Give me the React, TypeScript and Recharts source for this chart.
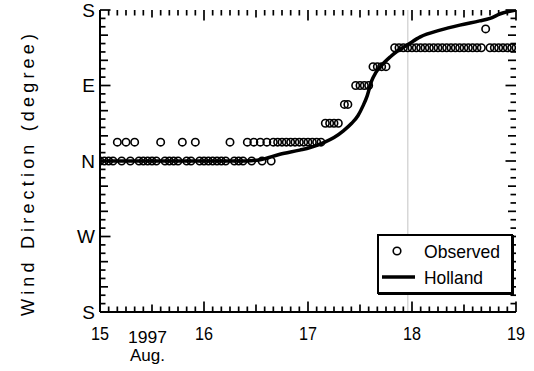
import React from 'react';
import { ComposedChart, Scatter, Line, XAxis, YAxis, Legend, ReferenceLine } from 'recharts';

const FONT = "'Liberation Sans', Arial, sans-serif";

// Observed wind direction levels (deg, N = 0, E = 90, S = +/-180, W = -90)
const obsLevels = [0, 22.5, 45, 67.5, 90, 112.5, 135, 157.5];
// Observation times (hours after 15 Aug 1997 00:00) for each level above
const obsHoursN = [0, 1, 2, 3, 5, 7, 9, 10, 11, 12, 13, 15, 16, 17, 18, 20, 21, 23, 24, 25, 26, 27, 28, 29, 31, 32, 33, 35, 37.4, 39.5];
const obsHoursNNE = [4, 6, 8, 14, 19, 22, 30, 34, 35.5, 37, 38.5, 40, 41, 42, 43, 44, 45, 46, 47, 48, 49, 50, 51];
const obsHoursNE = [52, 53, 54, 55];
const obsHoursENE = [56.4, 57.2];
const obsHoursE = [59, 60, 61, 62];
const obsHoursESE = [63, 64, 65, 66];
const obsHoursSE = [68, 69, 70, 71, 72, 73, 74, 75, 76, 77, 78, 79, 80, 81, 82, 83, 84, 85, 86, 87, 88, 90, 91, 92, 93, 94, 95, 96];
const obsHoursSSE = [89];
const obsHourGroups = [obsHoursN, obsHoursNNE, obsHoursNE, obsHoursENE, obsHoursE, obsHoursESE, obsHoursSE, obsHoursSSE];

// Holland model curve
const hollandDays = [15.0, 15.5, 16.0, 16.4, 16.54, 16.73, 16.92, 17.02, 17.15, 17.25, 17.34, 17.42, 17.48, 17.53, 17.57, 17.61, 17.65, 17.7, 17.79, 17.87, 17.95, 18.08, 18.27, 18.46, 18.65, 18.75, 18.85, 18.94, 19.0];
const hollandDeg = [0, 0, 0, 0, 1.5, 8, 13, 16, 22, 28, 36, 45, 54, 66, 78, 95, 105, 113, 124, 132, 138, 148, 156, 162, 167, 170, 175.5, 178.5, 180];

// Axis labels
const xTickDays = [15, 16, 17, 18, 19];
const xTickLabels = ['15', '16', '17', '18', '19'];
const dateLabel = ['1997', 'Aug.'];
const yTickValues = [-180, -90, 0, 90, 180];
const yTickLabels = ['S', 'W', 'N', 'E', 'S'];
const yTitle = 'Wind Direction (degree)';
const seriesNames = ['Observed', 'Holland'];

const X0 = 15, X1 = 19, Y0 = -180, Y1 = 180;

const obsData: { t: number; v: number }[] = [];
obsHourGroups.forEach((hours, i) => {
  hours.forEach((h) => obsData.push({ t: X0 + h / 24, v: obsLevels[i] }));
});
const hollandData = hollandDays.map((t, i) => ({ t, v: hollandDeg[i] }));

// minor tick marks: every 2 hours on x, every 10 degrees on y
const xMinorTicks: number[] = [];
for (let h = 0; h <= 96; h += 2) xMinorTicks.push(X0 + h / 24);
const yMinorTicks: number[] = [];
for (let d = -180; d <= 180; d += 10) yMinorTicks.push(d);

// tick lengths in pixels, converted to data units of the other axis (plot is 416 x 302 px)
const PX_W = 416, PX_H = 302;
const xLenPx = (v: number) => {
  const h = Math.round((v - X0) * 24);
  return h % 24 === 0 ? 10.5 : h % 12 === 0 ? 7.5 : 5.5;
};
const yLenPx = (v: number) => {
  const d = Math.round(v);
  return d % 90 === 0 ? 10.5 : d % 30 === 0 ? 8 : 5.5;
};
const pxToDeg = (px: number) => (px * (Y1 - Y0)) / PX_H;
const pxToDay = (px: number) => (px * (X1 - X0)) / PX_W;

const BottomTick = (props: any) => {
  const x = Number(props.x);
  const y = Number(props.y);
  const v = props.payload.value;
  const idx = xTickDays.findIndex((d) => Math.abs(d - v) < 1e-6);
  return (
    <g>
      <text x={x} y={y + 28} textAnchor="middle" fontSize={18} fontFamily={FONT} fill="#000"
        textLength={18} lengthAdjust="spacingAndGlyphs">
        {xTickLabels[idx]}
      </text>
      {idx === 0 && (
        <g>
          <text x={x + 28} y={y + 31} fontSize={17} fontFamily={FONT} fill="#000" textLength={39} lengthAdjust="spacingAndGlyphs">{dateLabel[0]}</text>
          <text x={x + 30} y={y + 49} fontSize={17} fontFamily={FONT} fill="#000" textLength={35} lengthAdjust="spacingAndGlyphs">{dateLabel[1]}</text>
        </g>
      )}
    </g>
  );
};

const LeftTick = (props: any) => {
  const x = Number(props.x);
  const y = Number(props.y);
  const idx = yTickValues.indexOf(Math.round(props.payload.value));
  return (
    <text x={x - 5} y={y} dy="0.36em" textAnchor="end" fontSize={19} fontFamily={FONT} fill="#000">
      {yTickLabels[idx]}
    </text>
  );
};

const CircleShape = (props: any) => {
  const { cx, cy } = props;
  return <circle cx={cx} cy={cy} r={3.7} fill="none" stroke="#000" strokeWidth={1.6} />;
};

const YTitle = (props: any) => {
  const vb = props.viewBox || { x: 0, y: 10, width: 100, height: 302 };
  const cx = vb.x + 28;
  const cy = vb.y + vb.height / 2 + 14;
  return (
    <text x={cx} y={cy} transform={`rotate(-90 ${cx} ${cy})`} textAnchor="middle" dominantBaseline="central"
      fontSize={18} fontFamily={FONT} fill="#000" textLength={282} lengthAdjust="spacing">
      {yTitle}
    </text>
  );
};

const LegendBox = () => (
  <div style={{ width: 136, height: 60, boxSizing: 'border-box', border: '2px solid #000', background: '#fff', boxShadow: '1px 1px 0 #000' }}>
    <svg width={132} height={56} style={{ display: 'block' }}>
      <circle cx={18} cy={15} r={3.8} fill="none" stroke="#000" strokeWidth={1.6} />
      <text x={45} y={22} fontSize={19} fontFamily={FONT} fill="#000" textLength={76} lengthAdjust="spacingAndGlyphs">{seriesNames[0]}</text>
      <line x1={3} x2={36} y1={41} y2={41} stroke="#000" strokeWidth={3.5} />
      <text x={45} y={48} fontSize={19} fontFamily={FONT} fill="#000" textLength={59} lengthAdjust="spacingAndGlyphs">{seriesNames[1]}</text>
    </svg>
  </div>
);

const axisLine = { stroke: '#000', strokeWidth: 2 };
const TICK_STROKE = '#000';
const TICK_W = 1.7;

export default function App() {
  const tickMarks: React.ReactNode[] = [];
  xMinorTicks.forEach((t, i) => {
    const dl = pxToDeg(xLenPx(t));
    tickMarks.push(
      <ReferenceLine key={`xb${i}`} xAxisId="b" yAxisId="l" segment={[{ x: t, y: Y0 }, { x: t, y: Y0 + dl }]}
        stroke={TICK_STROKE} strokeWidth={TICK_W} ifOverflow="visible" />,
      <ReferenceLine key={`xt${i}`} xAxisId="b" yAxisId="l" segment={[{ x: t, y: Y1 }, { x: t, y: Y1 - dl }]}
        stroke={TICK_STROKE} strokeWidth={TICK_W} ifOverflow="visible" />
    );
  });
  yMinorTicks.forEach((d, i) => {
    const xl = pxToDay(yLenPx(d));
    tickMarks.push(
      <ReferenceLine key={`yl${i}`} xAxisId="b" yAxisId="l" segment={[{ x: X0, y: d }, { x: X0 + xl, y: d }]}
        stroke={TICK_STROKE} strokeWidth={TICK_W} ifOverflow="visible" />,
      <ReferenceLine key={`yr${i}`} xAxisId="b" yAxisId="l" segment={[{ x: X1, y: d }, { x: X1 - xl, y: d }]}
        stroke={TICK_STROKE} strokeWidth={TICK_W} ifOverflow="visible" />
    );
  });

  return (
    <div style={{ position: 'absolute', left: 0, top: 0, width: 534, height: 371, background: '#fff' }}>
      <ComposedChart width={534} height={371} margin={{ top: 10, right: 18, bottom: 0, left: 0 }}>
        <XAxis xAxisId="b" type="number" dataKey="t" domain={[X0, X1]} ticks={xTickDays} interval={0}
          orientation="bottom" height={59} tickSize={0} tickMargin={0} tickLine={false}
          axisLine={axisLine} tick={(p: any) => <BottomTick {...p} />} allowDataOverflow />
        <XAxis xAxisId="t" type="number" dataKey="t" domain={[X0, X1]} ticks={xTickDays} interval={0}
          orientation="top" height={0} tickSize={0} tickLine={false} tick={false}
          axisLine={axisLine} allowDataOverflow />
        <YAxis yAxisId="l" type="number" dataKey="v" domain={[Y0, Y1]} ticks={yTickValues} interval={0}
          orientation="left" width={100} tickSize={0} tickMargin={0} tickLine={false}
          axisLine={axisLine} tick={(p: any) => <LeftTick {...p} />}
          label={(p: any) => <YTitle {...p} />} allowDataOverflow />
        <YAxis yAxisId="r" type="number" dataKey="v" domain={[Y0, Y1]} ticks={yTickValues} interval={0}
          orientation="right" width={0} tickSize={0} tickLine={false} tick={false}
          axisLine={axisLine} allowDataOverflow />
        {tickMarks}
        <ReferenceLine xAxisId="b" yAxisId="l" x={17.96} stroke="#aaa" strokeWidth={0.7} />
        <Scatter name={seriesNames[0]} xAxisId="b" yAxisId="l" data={obsData} dataKey="v"
          shape={(p: any) => <CircleShape {...p} />} isAnimationActive={false} />
        <Scatter xAxisId="t" yAxisId="r" data={obsData} dataKey="v" shape={() => <g />} isAnimationActive={false} legendType="none" />
        <Line name={seriesNames[1]} xAxisId="b" yAxisId="l" data={hollandData} dataKey="v" type="monotone"
          stroke="#000" strokeWidth={3.5} dot={false} activeDot={false} isAnimationActive={false} />
        <Legend layout="vertical" align="center" verticalAlign="middle" content={() => <LegendBox />}
          wrapperStyle={{ position: 'absolute', left: 377, top: 234, width: 136, height: 60 }} />
      </ComposedChart>
    </div>
  );
}
